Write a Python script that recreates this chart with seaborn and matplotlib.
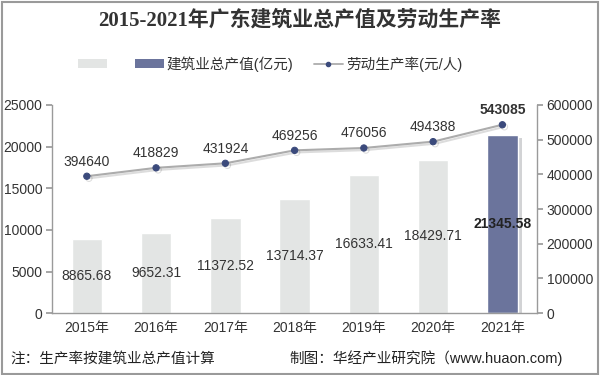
import matplotlib
matplotlib.use("Agg")
import matplotlib.pyplot as plt
import matplotlib.patheffects as pe
from matplotlib.patches import Patch, Rectangle
from matplotlib.lines import Line2D
import seaborn as sns
import pandas as pd
import numpy as np

# ---------------------------------------------------
# Data
# ---------------------------------------------------

years = ["2015年", "2016年", "2017年", "2018年", "2019年", "2020年", "2021年"]
output_value = [8865.68, 9652.31, 11372.52, 13714.37, 16633.41, 18429.71, 21345.58]
productivity = [394640, 418829, 431924, 469256, 476056, 494388, 543085]

GRAY_BAR = "#e3e5e4"
BLUE_BAR = "#6b749c"
LINE_GRAY = "#acacac"
MARKER_BLUE = "#3b4a7c"
TEXT = "#333333"
AXIS = "#9a9a9a"

sns.set_theme(style="white")
plt.rcParams["font.family"] = ["Liberation Sans", "Noto Sans CJK SC", "DejaVu Sans"]

df = pd.DataFrame({"year": years, "value": output_value, "rate": productivity})

fig = plt.figure(figsize=(6, 3.75), dpi=100)
ax = fig.add_axes([0.087, 0.165, 0.808, 0.555])
ax2 = ax.twinx()

colors = [GRAY_BAR] * (len(years) - 1) + [BLUE_BAR]
sns.barplot(data=df, x="year", y="value", hue="year", palette=colors,
            legend=False, width=0.44, ax=ax, saturation=1)
ax.patches[-1].set_path_effects([pe.SimplePatchShadow(offset=(3, -2), alpha=0.2),
                                 pe.Normal()])

xs = np.arange(len(years))
sns.lineplot(x=xs, y=df["rate"], ax=ax2, color=LINE_GRAY, linewidth=1.5,
             marker="o", markersize=4.5, markerfacecolor=MARKER_BLUE,
             markeredgecolor=MARKER_BLUE,
             path_effects=[pe.SimpleLineShadow(offset=(1.5, -1.5), alpha=0.15), pe.Normal()])

# value labels
for i, v in enumerate(output_value):
    last = i == len(years) - 1
    ax.text(i, v / 2, f"{v:.2f}", ha="center", va="center", fontsize=10,
            color="#222222" if last else TEXT, fontweight="bold" if last else "normal")
for i, r in enumerate(productivity):
    last = i == len(years) - 1
    ax2.text(i, r + 22000, f"{r}", ha="center", va="bottom", fontsize=10,
             color=TEXT, fontweight="bold" if last else "normal")

# axes
ax.set_xlim(-0.5, len(years) - 0.5)
ax.set_ylim(0, 25000)
ax2.set_ylim(0, 600000)
ax.set_yticks(np.arange(0, 25001, 5000))
ax2.set_yticks(np.arange(0, 600001, 100000))
ax.set_xlabel("")
ax.set_ylabel("")
ax2.set_ylabel("")

for a in (ax, ax2):
    a.spines["top"].set_visible(False)
    for s in ("left", "right", "bottom"):
        a.spines[s].set_color(AXIS)
        a.spines[s].set_linewidth(1)
    a.grid(False)
ax.spines["right"].set_visible(False)
ax2.spines["left"].set_visible(False)
ax2.spines["bottom"].set_visible(False)

ax.tick_params(axis="y", which="both", direction="out", length=4, color=AXIS,
               labelsize=10, labelcolor=TEXT, left=True, pad=3)
ax2.tick_params(axis="y", direction="out", length=4, color=AXIS,
                labelsize=10, labelcolor=TEXT, right=True, pad=3)
ax.set_xticks(xs)
ax.set_xticklabels(years, fontsize=10, color=TEXT)
ax.tick_params(axis="x", length=0, pad=6)
ax.set_xticks(np.arange(-0.5, len(years), 1), minor=True)
ax.tick_params(axis="x", which="minor", length=4, color=AXIS, direction="out")

# title and legend
fig.text(0.5, 0.945, "2015-2021年广东建筑业总产值及劳动生产率", ha="center", va="center",
         fontsize=15, fontweight="bold", color="#333333",
         family=["Liberation Serif", "Noto Sans CJK SC"])

handles = [
    Patch(facecolor=GRAY_BAR, edgecolor="none"),
    Patch(facecolor=BLUE_BAR, edgecolor="none"),
    Line2D([0], [0], color=LINE_GRAY, marker="o", markersize=3,
           markerfacecolor=MARKER_BLUE, markeredgecolor=MARKER_BLUE, linewidth=1.3),
]
labels = [" ", "建筑业总产值(亿元)", "劳动生产率(元/人)"]
fig.legend(handles, labels, loc="center", bbox_to_anchor=(0.45, 0.83), ncol=3,
           frameon=False, fontsize=10.5, handlelength=2.0, handleheight=0.6,
           columnspacing=1.4, handletextpad=0.2, labelcolor=TEXT)

# notes
fig.text(0.017, 0.045, "注：生产率按建筑业总产值计算", ha="left", va="center",
         fontsize=10.5, color="#222222")
fig.text(0.482, 0.045, "制图：华经产业研究院（www.huaon.com)", ha="left", va="center",
         fontsize=10.5, color="#222222")

# outer frame
fig.patches.append(Rectangle((0.003, 0.004), 0.994, 0.992, transform=fig.transFigure,
                             fill=False, edgecolor="#9a9a9a", linewidth=1.5))

fig.savefig("out.png", dpi=100)
